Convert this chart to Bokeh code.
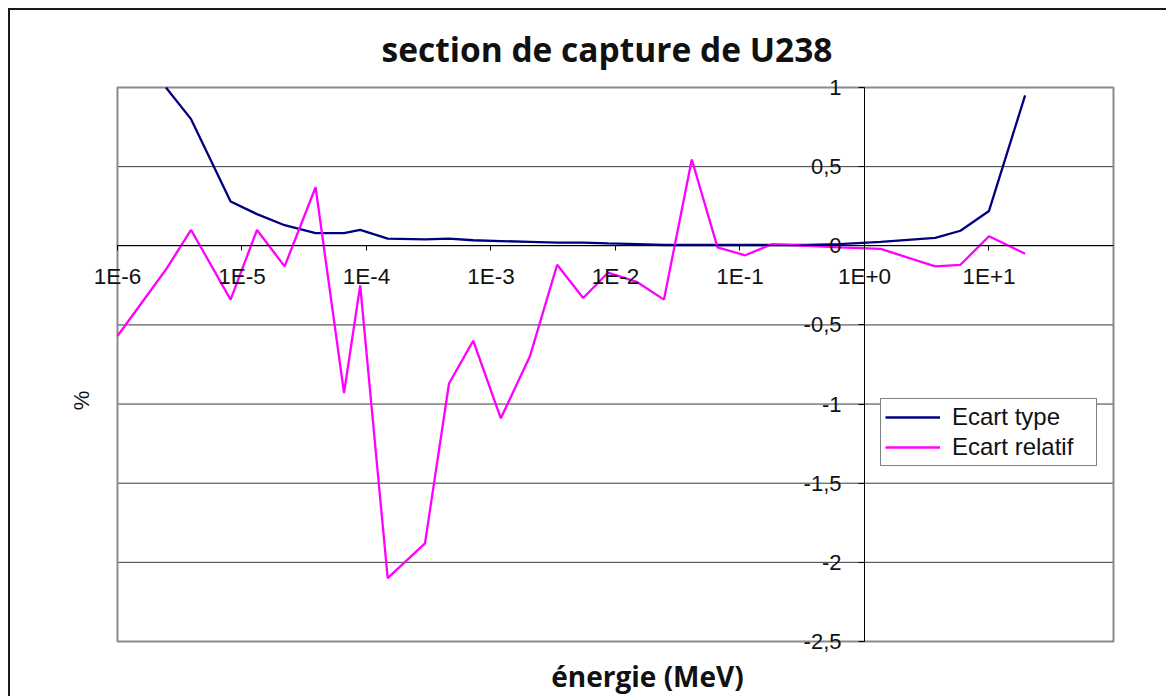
import math
from bokeh.plotting import figure
from bokeh.models import (LogAxis, LinearAxis, FixedTicker, Range1d, Grid, Legend,
                          LegendItem, Label, Title)
from bokeh.embed import file_html
from bokeh.resources import INLINE

# ---- data ----
energie_mev = [1.0e-6, 2.45e-6, 3.9e-6, 8.1e-6, 1.32e-5, 2.2e-5, 3.9e-5, 6.6e-5, 8.9e-5,
               1.48e-4, 2.95e-4, 4.6e-4, 7.2e-4, 1.2e-3, 2.05e-3, 3.4e-3, 5.5e-3, 8.7e-3,
               1.5e-2, 2.45e-2, 4.1e-2, 6.6e-2, 0.11, 0.18, 0.35, 0.63, 1.35, 3.7, 5.9,
               10.0, 19.5]
ecart_type = [float("nan"), 1.0, 0.80, 0.28, 0.20, 0.13, 0.08, 0.08, 0.10,
              0.045, 0.04, 0.045, 0.035, 0.03, 0.025, 0.02, 0.02, 0.015,
              0.01, 0.005, 0.005, 0.005, 0.005, 0.005, 0.005, 0.01, 0.025, 0.05, 0.095,
              0.22, 0.95]
ecart_relatif = [-0.57, -0.15, 0.10, -0.34, 0.10, -0.13, 0.37, -0.93, -0.25,
                 -2.10, -1.88, -0.87, -0.60, -1.09, -0.70, -0.12, -0.33, -0.17,
                 -0.23, -0.34, 0.545, -0.01, -0.06, 0.01, 0.0, -0.01, -0.02, -0.13, -0.12,
                 0.06, -0.05]

x_ticks = [1e-6, 1e-5, 1e-4, 1e-3, 1e-2, 1e-1, 1e0, 1e1]
x_tick_labels = ["1E-6", "1E-5", "1E-4", "1E-3", "1E-2", "1E-1", "1E+0", "1E+1"]
y_ticks = [1.0, 0.5, 0.0, -0.5, -1.0, -1.5, -2.0, -2.5]
y_tick_labels = ["1", "0,5", "0", "-0,5", "-1", "-1,5", "-2", "-2,5"]

x_limits = (1e-6, 1e2)     # plot-area bounds on the energy axis
y_limits = (-2.5, 1.0)     # plot-area bounds on the % axis

title_text = "section de capture de U238"
x_label = "énergie (MeV)"
y_label = "%"
series_names = ["Ecart type", "Ecart relatif"]
series_colors = ["#000080", "#FF00FF"]

FONT = "Liberation Sans"

# frame is a little larger than the plot area so that edge labels are not clipped
x_view = (10 ** -6.3614, 10 ** 2.4418)
y_view = (-2.8601, 1.0758)

p = figure(width=1158, height=688, x_axis_type="log",
           x_range=Range1d(*x_view), y_range=Range1d(*y_view),
           x_axis_location=None, y_axis_location=None, title=None,
           output_backend="svg", toolbar_location=None,
           min_border_left=62, min_border_right=0,
           min_border_top=65, min_border_bottom=0)
p.margin = (8, 0, 0, 8)
p.styles = {"border-left": "2px solid #1a1a1a", "border-top": "2px solid #1a1a1a"}

p.background_fill_color = "white"
p.border_fill_color = "white"
p.outline_line_color = None

# title (closest to the frame in the top panel)
p.add_layout(Title(text=title_text, align="left", offset=309, standoff=8,
                   text_font="Open Sans", text_font_style="bold",
                   text_font_size="33.5px", text_color="#111111"), "above")

# remove default grids, draw horizontal grid lines only across the plot area
p.center = [r for r in p.center if not isinstance(r, Grid)]
n = len(y_ticks)
p.segment(x0=[x_limits[0]] * n, x1=[x_limits[1]] * n, y0=y_ticks, y1=y_ticks,
          line_color="#3a3a3a", line_width=1)

# plot-area border
p.quad(left=[x_limits[0]], right=[x_limits[1]], top=[y_limits[1]], bottom=[y_limits[0]],
       fill_color=None, line_color="#8a8a8a", line_width=2)

# x axis crossing at y = 0 (labels below the line)
xaxis = LogAxis(ticker=FixedTicker(ticks=x_ticks, minor_ticks=[]),
                major_label_overrides=dict(zip(x_ticks, x_tick_labels)))
xaxis.fixed_location = 0.0
xaxis.bounds = x_limits
xaxis.axis_line_color = "black"
xaxis.axis_line_width = 1
xaxis.major_tick_out = 0
xaxis.major_tick_in = 5
xaxis.minor_tick_out = 0
xaxis.minor_tick_in = 0
xaxis.major_label_standoff = -43
xaxis.major_label_text_font = FONT
xaxis.major_label_text_font_size = "22.5px"
xaxis.major_label_text_color = "#111111"
p.add_layout(xaxis, "above")

# y axis crossing at x = 1E+0
yaxis = LinearAxis(ticker=FixedTicker(ticks=y_ticks, minor_ticks=[]),
                   major_label_overrides=dict(zip(y_ticks, y_tick_labels)))
yaxis.fixed_location = 1.0
yaxis.bounds = y_limits
yaxis.axis_line_color = "black"
yaxis.axis_line_width = 1
yaxis.major_tick_out = 6
yaxis.major_tick_in = 0
yaxis.minor_tick_out = 0
yaxis.minor_tick_in = 0
yaxis.major_label_standoff = 17
yaxis.major_label_text_font = FONT
yaxis.major_label_text_font_size = "22px"
yaxis.major_label_text_color = "#111111"
p.add_layout(yaxis, "left")

# series
r1 = p.line(energie_mev, ecart_type, line_color=series_colors[0], line_width=2.3)
r2 = p.line(energie_mev, ecart_relatif, line_color=series_colors[1], line_width=2.3)

legend = Legend(items=[LegendItem(label=series_names[0], renderers=[r1]),
                       LegendItem(label=series_names[1], renderers=[r2])],
                location=(808, 232))
legend.border_line_color = "black"
legend.border_line_width = 1
legend.background_fill_color = "white"
legend.background_fill_alpha = 1.0
legend.label_text_font = FONT
legend.label_text_font_size = "24px"
legend.label_text_color = "#111111"
legend.glyph_width = 55
legend.glyph_height = 20
legend.label_height = 20
legend.label_width = 140
legend.label_standoff = 12
legend.spacing = 2
legend.padding = 4
legend.margin = 0
p.add_layout(legend, "center")

# axis titles (inside the frame, outside the plot area)
p.add_layout(Label(x=575, y=23, x_units="screen", y_units="screen", text=x_label,
                   text_align="center", text_baseline="middle",
                   text_font="Open Sans", text_font_style="bold",
                   text_font_size="28px", text_color="#111111"))
p.add_layout(Label(x=9, y=298, x_units="screen", y_units="screen", text=y_label,
                   angle=math.pi / 2, text_align="center", text_baseline="middle",
                   text_font=FONT, text_font_size="22px", text_color="#111111"))

open("out.html", "w").write(file_html(p, INLINE))
